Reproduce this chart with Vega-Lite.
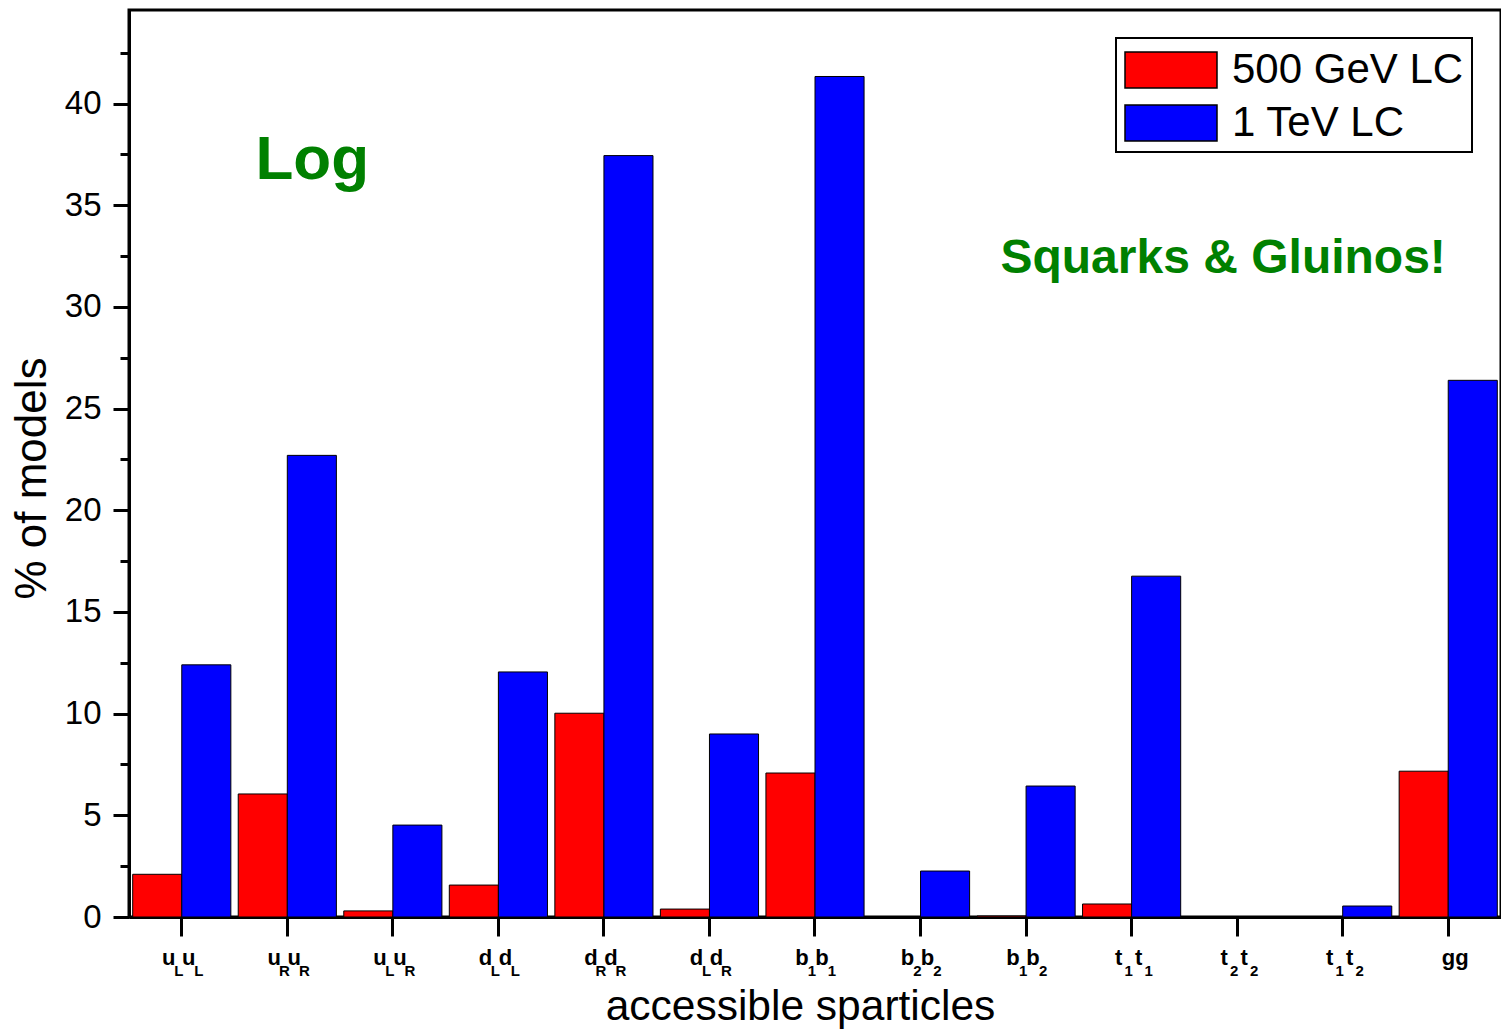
{
  "$schema": "https://vega.github.io/schema/vega-lite/v6.json",
  "width": 1372,
  "height": 907,
  "autosize": {"type": "none"},
  "padding": {"left": 129, "top": 10, "right": 0, "bottom": 113},
  "background": "white",
  "config": {
    "view": {"stroke": "black", "strokeWidth": 3},
    "font": "Liberation Sans",
    "legend": {"strokeWidth": 2}
  },
  "datasets": {
    "bars": [
      {"cat": "uLuL", "series": "500 GeV LC", "pct": 2.1},
      {"cat": "uLuL", "series": "1 TeV LC", "pct": 12.4},
      {"cat": "uRuR", "series": "500 GeV LC", "pct": 6.05},
      {"cat": "uRuR", "series": "1 TeV LC", "pct": 22.7},
      {"cat": "uLuR", "series": "500 GeV LC", "pct": 0.3},
      {"cat": "uLuR", "series": "1 TeV LC", "pct": 4.52},
      {"cat": "dLdL", "series": "500 GeV LC", "pct": 1.57},
      {"cat": "dLdL", "series": "1 TeV LC", "pct": 12.05},
      {"cat": "dRdR", "series": "500 GeV LC", "pct": 10.02},
      {"cat": "dRdR", "series": "1 TeV LC", "pct": 37.44},
      {"cat": "dLdR", "series": "500 GeV LC", "pct": 0.39},
      {"cat": "dLdR", "series": "1 TeV LC", "pct": 9.0},
      {"cat": "b1b1", "series": "500 GeV LC", "pct": 7.08},
      {"cat": "b1b1", "series": "1 TeV LC", "pct": 41.33},
      {"cat": "b2b2", "series": "500 GeV LC", "pct": 0},
      {"cat": "b2b2", "series": "1 TeV LC", "pct": 2.26},
      {"cat": "b1b2", "series": "500 GeV LC", "pct": 0.05},
      {"cat": "b1b2", "series": "1 TeV LC", "pct": 6.44},
      {"cat": "t1t1", "series": "500 GeV LC", "pct": 0.64},
      {"cat": "t1t1", "series": "1 TeV LC", "pct": 16.76},
      {"cat": "t2t2", "series": "500 GeV LC", "pct": 0},
      {"cat": "t2t2", "series": "1 TeV LC", "pct": 0},
      {"cat": "t1t2", "series": "500 GeV LC", "pct": 0},
      {"cat": "t1t2", "series": "1 TeV LC", "pct": 0.54},
      {"cat": "gg", "series": "500 GeV LC", "pct": 7.17},
      {"cat": "gg", "series": "1 TeV LC", "pct": 26.39}
    ],
    "labels": [
      {"cat": "uLuL", "a": "u", "s": "L", "b": "u", "t": "L"},
      {"cat": "uRuR", "a": "u", "s": "R", "b": "u", "t": "R"},
      {"cat": "uLuR", "a": "u", "s": "L", "b": "u", "t": "R"},
      {"cat": "dLdL", "a": "d", "s": "L", "b": "d", "t": "L"},
      {"cat": "dRdR", "a": "d", "s": "R", "b": "d", "t": "R"},
      {"cat": "dLdR", "a": "d", "s": "L", "b": "d", "t": "R"},
      {"cat": "b1b1", "a": "b", "s": "1", "b": "b", "t": "1"},
      {"cat": "b2b2", "a": "b", "s": "2", "b": "b", "t": "2"},
      {"cat": "b1b2", "a": "b", "s": "1", "b": "b", "t": "2"},
      {"cat": "t1t1", "a": "t", "s": "1", "b": "t", "t": "1"},
      {"cat": "t2t2", "a": "t", "s": "2", "b": "t", "t": "2"},
      {"cat": "t1t2", "a": "t", "s": "1", "b": "t", "t": "2"},
      {"cat": "gg", "a": "", "s": "", "b": "gg", "t": ""}
    ]
  },
  "layer": [
    {
      "data": {"name": "bars"},
      "mark": {"type": "bar", "stroke": "black", "strokeWidth": 1},
      "encoding": {
        "x": {
          "field": "cat",
          "type": "nominal",
          "title": "accessible sparticles",
          "scale": {
            "domain": ["uLuL", "uRuR", "uLuR", "dLdL", "dRdR", "dLdR", "b1b1", "b2b2", "b1b2", "t1t1", "t2t2", "t1t2", "gg"],
            "paddingInner": 0.07,
            "paddingOuter": 0.035
          },
          "axis": {
            "title": "accessible sparticles",
            "labels": false,
            "domainColor": "black",
            "domainWidth": 3,
            "tickColor": "black",
            "tickWidth": 3,
            "tickSize": 19,
            "titleFontSize": 42.5,
            "titleFontWeight": "normal",
            "titleColor": "black",
            "titlePadding": 48,
            "titleX": 671
          }
        },
        "xOffset": {
          "field": "series",
          "type": "nominal",
          "scale": {"domain": ["500 GeV LC", "1 TeV LC"]}
        },
        "y": {
          "field": "pct",
          "type": "quantitative",
          "title": "% of models",
          "scale": {"domain": [0, 44.6], "nice": false, "zero": true},
          "axis": {
            "title": "% of models",
            "grid": false,
            "values": [0, 2.5, 5, 7.5, 10, 12.5, 15, 17.5, 20, 22.5, 25, 27.5, 30, 32.5, 35, 37.5, 40, 42.5],
            "labelExpr": "datum.value % 5 === 0 ? datum.label : ''",
            "tickSize": {"condition": {"test": "datum.value % 5 === 0", "value": 16}, "value": 9},
            "tickWidth": 3,
            "tickColor": "black",
            "domainWidth": 3,
            "domainColor": "black",
            "labelFontSize": 33,
            "labelColor": "black",
            "labelPadding": 12,
            "titleFontSize": 44,
            "titleFontWeight": "normal",
            "titleColor": "black",
            "titlePadding": 10,
            "titleY": 468
          }
        },
        "color": {
          "field": "series",
          "type": "nominal",
          "scale": {"domain": ["500 GeV LC", "1 TeV LC"], "range": ["#ff0000", "#0000ff"]},
          "legend": {
            "title": null,
            "orient": "none",
            "legendX": 987,
            "legendY": 28,
            "symbolType": "M-1,-0.78H3V0.78H-1Z",
            "symbolSize": 2116,
            "symbolStrokeColor": "black",
            "symbolStrokeWidth": 1.5,
            "symbolOpacity": 1,
            "labelFontSize": 42,
            "labelColor": "black",
            "labelOffset": 60,
            "labelLimit": 400,
            "rowPadding": 8,
            "padding": 8,
            "strokeColor": "black",
            "fillColor": "white"
          }
        }
      }
    },
    {
      "data": {"name": "labels"},
      "mark": {"type": "text", "dx": -13, "dy": 48, "fontSize": 22, "fontWeight": "bold", "align": "center", "baseline": "alphabetic", "color": "black"},
      "encoding": {
        "x": {"field": "cat", "type": "nominal", "title": "accessible sparticles"},
        "y": {"datum": 0, "type": "quantitative", "title": "% of models"},
        "text": {"field": "a"}
      }
    },
    {
      "data": {"name": "labels"},
      "mark": {"type": "text", "dx": -3, "dy": 59, "fontSize": 15, "fontWeight": "bold", "align": "center", "baseline": "alphabetic", "color": "black"},
      "encoding": {
        "x": {"field": "cat", "type": "nominal", "title": "accessible sparticles"},
        "y": {"datum": 0, "type": "quantitative", "title": "% of models"},
        "text": {"field": "s"}
      }
    },
    {
      "data": {"name": "labels"},
      "mark": {"type": "text", "dx": 7, "dy": 48, "fontSize": 22, "fontWeight": "bold", "align": "center", "baseline": "alphabetic", "color": "black"},
      "encoding": {
        "x": {"field": "cat", "type": "nominal", "title": "accessible sparticles"},
        "y": {"datum": 0, "type": "quantitative", "title": "% of models"},
        "text": {"field": "b"}
      }
    },
    {
      "data": {"name": "labels"},
      "mark": {"type": "text", "dx": 17, "dy": 59, "fontSize": 15, "fontWeight": "bold", "align": "center", "baseline": "alphabetic", "color": "black"},
      "encoding": {
        "x": {"field": "cat", "type": "nominal", "title": "accessible sparticles"},
        "y": {"datum": 0, "type": "quantitative", "title": "% of models"},
        "text": {"field": "t"}
      }
    },
    {
      "data": {"values": [{}]},
      "mark": {"type": "text", "text": "Log", "fontSize": 62, "fontWeight": "bold", "color": "#008000", "align": "center", "baseline": "alphabetic", "dx": 25},
      "encoding": {
        "x": {"datum": "uRuR", "type": "nominal", "title": "accessible sparticles"},
        "y": {"datum": 36.3, "type": "quantitative", "title": "% of models"}
      }
    },
    {
      "data": {"values": [{}]},
      "mark": {"type": "text", "text": "Squarks & Gluinos!", "fontSize": 48, "fontWeight": "bold", "color": "#008000", "align": "center", "baseline": "alphabetic", "dx": -14},
      "encoding": {
        "x": {"datum": "t2t2", "type": "nominal", "title": "accessible sparticles"},
        "y": {"datum": 31.65, "type": "quantitative", "title": "% of models"}
      }
    }
  ]
}
